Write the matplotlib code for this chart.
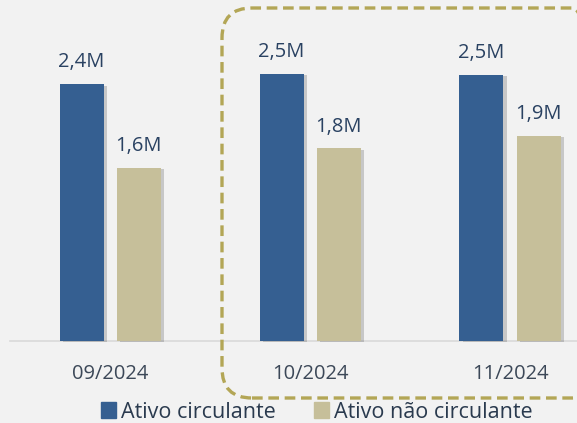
import numpy as np
import matplotlib.pyplot as plt
from matplotlib.patches import FancyBboxPatch, Patch
from matplotlib.transforms import IdentityTransform
import matplotlib.patheffects as pe

# データ --------------------------------
meses = ['09/2024', '10/2024', '11/2024']
circulante = [2.40, 2.50, 2.49]
nao_circulante = [1.62, 1.80, 1.92]
rot_circ = ['2,4M', '2,5M', '2,5M']
rot_nao = ['1,6M', '1,8M', '1,9M']
series = ['Ativo circulante', 'Ativo não circulante']

cor_azul = '#355f91'
cor_bege = '#c6bf9a'
cor_fundo = '#f2f2f2'
cor_txt = '#2a4262'

plt.rcParams['font.family'] = ['Open Sans', 'DejaVu Sans']

fig = plt.figure(figsize=(5.77, 4.23), dpi=100, facecolor=cor_fundo)
ax = fig.add_axes([0, 0, 1, 1])
ax.set_facecolor(cor_fundo)
ax.axis('off')

x = np.arange(len(meses))
w = 0.22
off = 0.1425
sombra = [pe.SimplePatchShadow(offset=(2.5, -1), shadow_rgbFace='#666666', alpha=0.3), pe.Normal()]
b1 = ax.bar(x - off, circulante, w, color=cor_azul, path_effects=sombra, zorder=3)
b2 = ax.bar(x + off, nao_circulante, w, color=cor_bege, path_effects=sombra, zorder=3)

for xi, v, t in zip(x - off, circulante, rot_circ):
    ax.text(xi, v + 0.11, t, ha='center', va='bottom', fontsize=14.5, color=cor_txt)
for xi, v, t in zip(x + off, nao_circulante, rot_nao):
    ax.text(xi, v + 0.11, t, ha='center', va='bottom', fontsize=14.5, color=cor_txt)

# eixo / rótulos
ax.plot([-0.5, 2.4], [0, 0], color='#d9d9d9', lw=1.2, zorder=2)
for xi, m in zip(x, meses):
    ax.text(xi, -0.31, m, ha='center', va='center', fontsize=14.5, color='#3c4858')

ax.set_xlim(-0.55, 2.335)
ax.set_ylim(-0.766, 3.187)

# caixa tracejada
caixa = FancyBboxPatch((222, 25), 380, 390, boxstyle='round,pad=0,rounding_size=30',
                       transform=IdentityTransform(), fill=False, edgecolor='#b3a656',
                       lw=2.4, linestyle=(0, (3.2, 1.7)), zorder=5)
fig.patches.append(caixa)

handles = [Patch(color=cor_azul), Patch(color=cor_bege)]
fig.legend(handles, series, loc='center', bbox_to_anchor=(0.549, 0.026), ncol=2,
           frameon=False, fontsize=15.5, handlelength=0.7, handleheight=0.7,
           handletextpad=0.25, columnspacing=1.75, labelcolor='#2a3a4e', borderaxespad=0)

fig.savefig('out.png', dpi=100, facecolor=cor_fundo)
